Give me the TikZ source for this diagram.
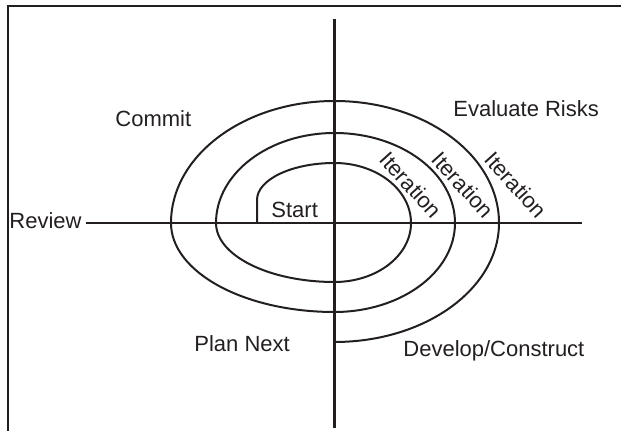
\documentclass[tikz,border=0pt]{standalone}
\usepackage{fontspec}
\setmainfont{Liberation Sans}
\definecolor{ink}{RGB}{35,31,32}
\begin{document}
\begin{tikzpicture}[x=0.5pt,y=-0.5pt,
  lbl/.style={font=\fontsize{11}{13}\selectfont, text=ink, inner sep=0pt, anchor=base west},
  iter/.style={font=\fontsize{11}{13}\selectfont, text=ink, inner sep=0pt, anchor=center, rotate=-48},
  axis/.style={draw=ink, line width=1.15pt},
  spiral/.style={draw=ink, line width=1pt},
  frame/.style={draw=ink, line width=0.7pt}]
\useasboundingbox (0,0) rectangle (621,431);
% frame
\coordinate (fbl) at (8,431);
\coordinate (ftl) at (8,6);
\coordinate (ftr) at (621,6);
\draw[frame] (fbl) -- (ftl) -- (ftr);
% axes
\coordinate (vtop) at (334.5,19);
\coordinate (vbot) at (334.5,428);
\coordinate (hl) at (86,223);
\coordinate (hr) at (582,223);
\draw[axis] (vtop) -- (vbot);
\draw[axis] (hl) -- (hr);
% spiral
\coordinate (s0) at (257,223);
\draw[spiral] (s0) -- (257,200)
  arc[start angle=180, end angle=270, x radius=77.5, y radius=37]
  arc[start angle=270, end angle=360, x radius=76.5, y radius=60]
  arc[start angle=0,   end angle=90,  x radius=76.5, y radius=59]
  arc[start angle=90,  end angle=180, x radius=118.5, y radius=59]
  arc[start angle=180, end angle=270, x radius=118.5, y radius=90]
  arc[start angle=270, end angle=360, x radius=120.5, y radius=90]
  arc[start angle=0,   end angle=90,  x radius=120.5, y radius=89]
  arc[start angle=90,  end angle=180, x radius=163.5, y radius=89]
  arc[start angle=180, end angle=270, x radius=163.5, y radius=122]
  arc[start angle=270, end angle=360, x radius=164.5, y radius=122]
  arc[start angle=0,   end angle=90,  x radius=164.5, y radius=119];
% labels
\node[lbl] (review) at (9,229) {Review};
\node[lbl] (commit) at (115,127) {Commit};
\node[lbl] (eval) at (453,117) {Evaluate Risks};
\node[lbl] (start) at (271,218) {Start};
\node[lbl] (plan) at (194,352) {Plan Next};
\node[lbl] (dev) at (403,357) {Develop/Construct};
\node[iter] (it1) at (411,185) {Iteration};
\node[iter] (it2) at (463,185) {Iteration};
\node[iter] (it3) at (516,185) {Iteration};
\end{tikzpicture}
\end{document}
